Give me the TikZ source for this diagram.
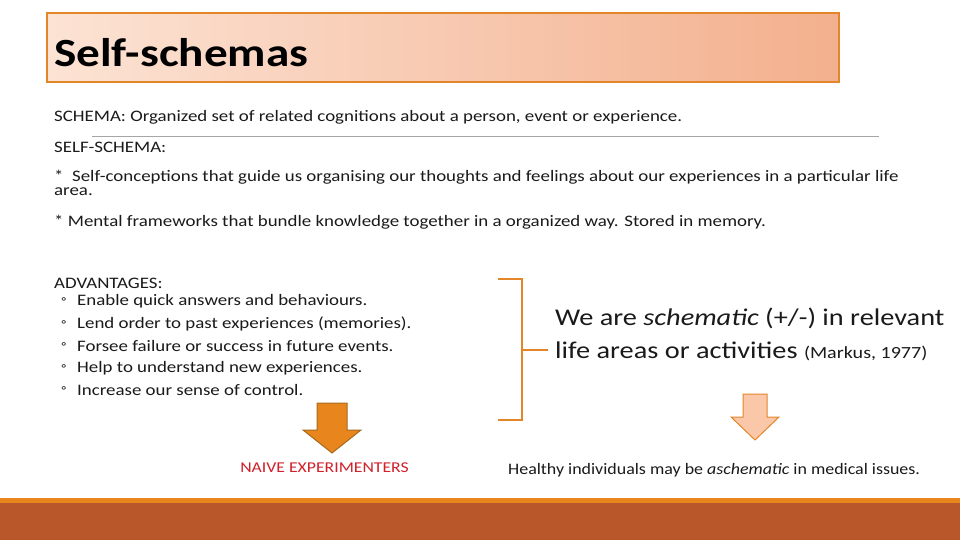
\documentclass[tikz,border=0pt]{standalone}
\usepackage{fontspec}
\setmainfont{Carlito}[FakeStretch=1.18]
\newfontfamily\healthfont{Carlito}[FakeStretch=1.12]
\definecolor{orng}{HTML}{E3862A}
\definecolor{darkbar}{HTML}{B9562A}
\definecolor{peachL}{HTML}{FCE3D4}
\definecolor{peachR}{HTML}{F3B08E}
\definecolor{arrowfill}{HTML}{E8851C}
\definecolor{arrowline}{HTML}{A86A1E}
\definecolor{lightarrow}{HTML}{FAC8A8}
\definecolor{naive}{HTML}{D0202A}
\definecolor{txt}{HTML}{1A1A1A}
\begin{document}
\begin{tikzpicture}[x=1pt,y=-1pt,
  body/.style={anchor=west,inner sep=0pt,font=\fontsize{16}{18}\selectfont,text=txt},
  bul/.style={anchor=west,inner sep=0pt,font=\fontsize{16}{18}\selectfont,text=txt}]
\useasboundingbox (0,0) rectangle (960,540);
\fill[white] (0,0) rectangle (960,540);
% title
\shade[left color=peachL,right color=peachR] (47,13) rectangle (839,82);
\draw[orng,line width=1.5pt] (47,13) rectangle (839,82);
\node[anchor=west,inner sep=0pt,font=\bfseries\fontsize{40}{44}\selectfont] (title) at (54,53) {Self-schemas};
% body
\node[body] (t1) at (54,117) {SCHEMA: Organized set of related cognitions about a person, event or experience.};
\draw[gray!70,line width=0.6pt] (92,136) -- (879,136);
\node[body] (t2) at (54,147) {SELF-SCHEMA:};
\node[body] (t3) at (54,177) {*\ \ Self-conceptions that guide us organising our thoughts and feelings about our experiences in a particular life};
\node[body] (t4) at (54,192) {area.};
\node[body] (t5) at (54,222) {* Mental frameworks that bundle knowledge together in a organized way. Stored in memory.};
\node[body] (adv) at (54,283) {ADVANTAGES:};
\foreach \y/\t in {301/Enable quick answers and behaviours.,324/Lend order to past experiences (memories).,346/Forsee failure or success in future events.,368/Help to understand new experiences.,390/Increase our sense of control.}{
  \node[bul,font=\fontsize{13}{15}\selectfont] at (61,\y) {◦};
  \node[bul] at (77,\y) {\t};
}
% big arrow
\draw[fill=arrowfill,draw=arrowline,line width=1pt] (317,403) -- (347,403) -- (347,430) -- (361,430) -- (332,453) -- (303,430) -- (317,430) -- cycle;
\node[anchor=center,inner sep=0pt,font=\fontsize{15}{17}\selectfont,text=naive] (naive) at (324.5,468) {NAIVE EXPERIMENTERS};
% bracket
\draw[orng,line width=1.5pt] (498,279) -- (522,279) -- (522,420) -- (498,420);
\coordinate (bm) at (522,350);
\coordinate (be) at (548,350);
\draw[orng,line width=1.5pt] (bm) -- (be);
\node[anchor=west,inner sep=0pt,font=\fontsize{24}{28}\selectfont,text=txt] (s1) at (555,318) {We are \textit{schematic} (+/-) in relevant};
\node[anchor=west,inner sep=0pt,font=\fontsize{24}{28}\selectfont,text=txt] (s2) at (555,351) {life areas or activities {\fontsize{17}{20}\selectfont(Markus, 1977)}};
% small arrow
\draw[fill=lightarrow,draw=orng,line width=1pt] (743,394) -- (767,394) -- (767,417) -- (779,417) -- (755,440) -- (731,417) -- (743,417) -- cycle;
\node[anchor=west,inner sep=0pt,font=\healthfont\fontsize{16}{18}\selectfont,text=txt] (h) at (508,470) {Healthy individuals may be \textit{aschematic} in medical issues.};
% bottom bar
\fill[arrowfill] (0,498) rectangle (960,503);
\fill[darkbar] (0,503) rectangle (960,540);
\end{tikzpicture}
\end{document}
